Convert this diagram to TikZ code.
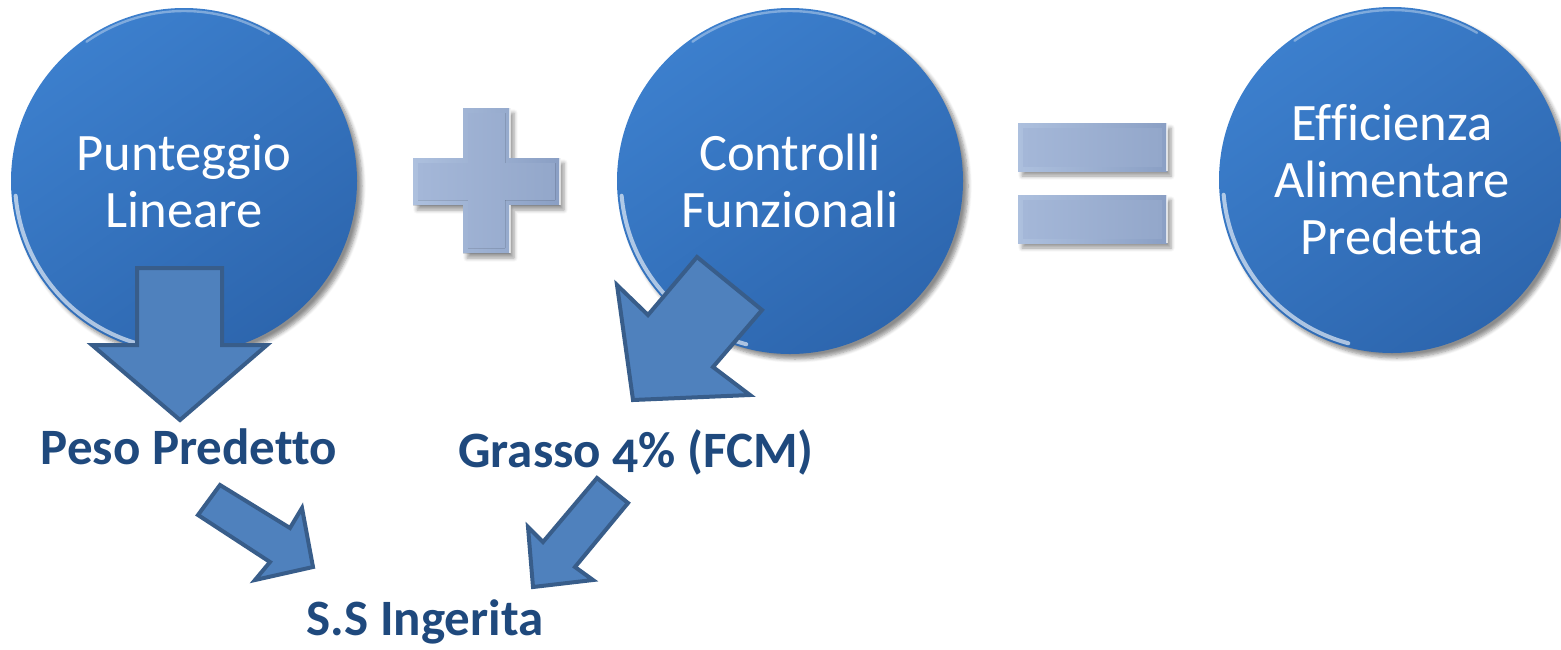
\documentclass[tikz,border=0pt]{standalone}
\usepackage{fontspec}
\setmainfont{Carlito}[Numbers=OldStyle, Ligatures={NoCommon}]
\usetikzlibrary{shadows.blur}
\definecolor{ballA}{HTML}{3C7FCD}
\definecolor{ballB}{HTML}{2D66AE}
\definecolor{arrfill}{HTML}{4F81BD}
\definecolor{arrdraw}{HTML}{385D8A}
\definecolor{labc}{HTML}{1F497D}
\definecolor{opA}{HTML}{ADC0DE}
\definecolor{opB}{HTML}{8A9FC4}
\definecolor{opC}{HTML}{A4B7D8}
\definecolor{opD}{HTML}{93A7CA}
\tikzset{
  ball/.style={circle, minimum size=173pt, inner sep=0pt, draw=none,
    top color=ballA, bottom color=ballB, shading angle=35,
    blur shadow={shadow xshift=2.5pt, shadow yshift=-2.5pt, shadow blur steps=6, shadow opacity=45},
    text=white, align=center, font=\fontsize{26.3}{28.5}\selectfont},
  rim/.style={white, line width=2pt, opacity=0.6, line cap=round},
  toprim/.style={white, line width=1.2pt, opacity=0.35, line cap=round},
  blockarrow/.style={fill=arrfill, draw=arrdraw, line width=2pt, line join=miter},
  lab/.style={text=labc, font=\fontsize{25.5}{28}\selectfont\bfseries, inner sep=0pt},
  opout/.style={left color=opA, right color=opB,
    blur shadow={shadow xshift=2pt, shadow yshift=-2.5pt, shadow blur steps=5, shadow opacity=40}},
  opin/.style={left color=opC, right color=opD},
}
\begin{document}
\begin{tikzpicture}[x=0.5pt, y=-0.5pt]
\useasboundingbox (0,0) rectangle (1561,649);

% circles
\node[ball] (c1) at (184,181) {Punteggio\\Lineare};
\node[ball] (c2) at (790,181) {Controlli\\Funzionali};
\node[ball] (c3) at (1392,180) {Efficienza\\Alimentare\\Predetta};
\foreach \c in {c1,c2,c3}{
  \draw[rim] ([shift={(185:84.5pt)}]\c.center) arc[start angle=185, end angle=255, radius=84.5pt];
  \draw[toprim] ([shift={(125:85pt)}]\c.center) arc[start angle=125, end angle=60, radius=85pt];
}

% plus sign
\fill[opout] (463,108) -- (510,108) -- (510,158) -- (560,158) -- (560,205) -- (510,205)
  -- (510,253) -- (463,253) -- (463,205) -- (413,205) -- (413,158) -- (463,158) -- cycle;
\fill[opin] (468,113) -- (505,113) -- (505,163) -- (555,163) -- (555,200) -- (505,200)
  -- (505,248) -- (468,248) -- (468,200) -- (418,200) -- (418,163) -- (468,163) -- cycle;
\draw[white, line width=1pt, opacity=0.7] (510,158) -- (510,108) (560,205) -- (560,158) (510,253) -- (510,205);

% equals sign
\foreach \ya/\yb in {123/171, 195/243}{
  \fill[opout] (1018,\ya) rectangle (1167,\yb);
  \fill[opin] (1023,\ya+5) rectangle (1162,\yb-5);
  \draw[white, line width=1pt, opacity=0.7] (1167,\ya) -- (1167,\yb);
}

% block arrows
\draw[blockarrow] (137,268) -- (222,268) -- (222,345) -- (267,345) -- (180,420)
  -- (92,345) -- (137,345) -- cycle;
\draw[blockarrow] (633,400) -- (617,285) -- (648,315) -- (697,257) -- (762,310)
  -- (713,367) -- (750,395) -- cycle;
\draw[blockarrow] (220,485) -- (290,528) -- (302,508) -- (313,567) -- (255,580)
  -- (270,562) -- (198,515) -- cycle;
\draw[blockarrow] (628,503) -- (597,478) -- (543,542) -- (528,527) -- (533,587)
  -- (593,580) -- (575,567) -- cycle;

% labels
\node[lab] (peso) at (189,447) {Peso Predetto};
\node[lab] (grasso) at (636,452) {Grasso 4\% (FCM)};
\node[lab] (ss) at (425,622) {S.S Ingerita};
\end{tikzpicture}
\end{document}
